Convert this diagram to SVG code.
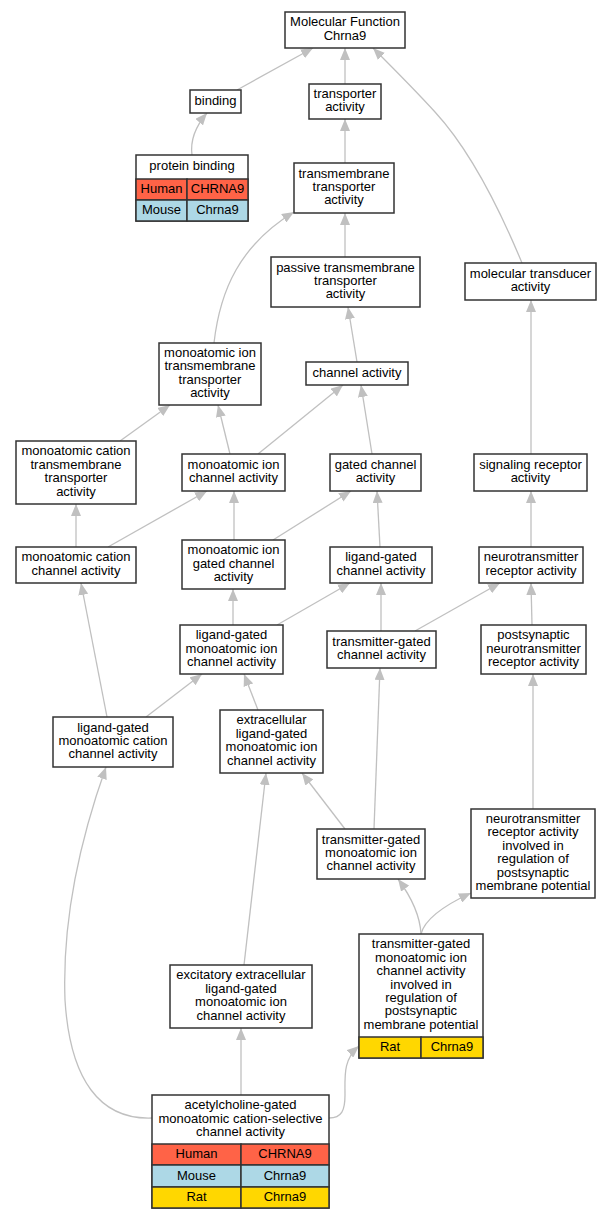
<svg xmlns="http://www.w3.org/2000/svg" width="612" height="1219" viewBox="0 0 612 1219">
<style>
.n{fill:#fff;stroke:#333;stroke-width:1.5}
.t{font-family:"Liberation Sans",Arial,sans-serif;font-size:13px;fill:#000;text-anchor:middle}
.c{stroke:#333;stroke-width:1.5}
.hu{fill:#FF6347}
.mo{fill:#ADD8E6}
.ra{fill:#FFD700}
.e{fill:none;stroke:#c0c0c0;stroke-width:1.3;marker-end:url(#a)}
</style>
<defs>
<marker id="a" markerUnits="userSpaceOnUse" markerWidth="12" markerHeight="10" refX="12" refY="5" orient="auto">
<path d="M0,0 L12,5 L0,10 z" fill="#c0c0c0"/>
</marker>
</defs>
<rect width="612" height="1219" fill="#fff"/>
<g id="edges">
<path class="e" d="M237,90 L313,48"/>
<path class="e" d="M345,84 L345,48"/>
<path class="e" d="M522,263 C500,210 470,150 435,112 C415,90 395,70 373,48"/>
<path class="e" d="M192,155 C190,140 195,127 207,113"/>
<path class="e" d="M345,163 L345,119"/>
<path class="e" d="M345,257 L345,213"/>
<path class="e" d="M214,343 C220,290 240,245 294,212"/>
<path class="e" d="M357,362 L348,307"/>
<path class="e" d="M531,454 L531,300"/>
<path class="e" d="M120,441 L170,405"/>
<path class="e" d="M230,454 L218,405"/>
<path class="e" d="M258,454 L343,385"/>
<path class="e" d="M372,454 L361,385"/>
<path class="e" d="M76,547 L76,504"/>
<path class="e" d="M108,547 L207,491"/>
<path class="e" d="M234,540 L234,491"/>
<path class="e" d="M273,540 L351,491"/>
<path class="e" d="M380,547 L377,491"/>
<path class="e" d="M531,547 L531,491"/>
<path class="e" d="M233,625 L233,589"/>
<path class="e" d="M277,625 L350,583"/>
<path class="e" d="M381,631 L381,583"/>
<path class="e" d="M415,631 L500,583"/>
<path class="e" d="M532,625 L531,583"/>
<path class="e" d="M146,717 L202,674"/>
<path class="e" d="M107,717 L81,583"/>
<path class="e" d="M258,710 L244,674"/>
<path class="e" d="M345,829 L302,773"/>
<path class="e" d="M374,829 L380,668"/>
<path class="e" d="M533,809 L533,674"/>
<path class="e" d="M421,934 C420,915 412,898 398,879"/>
<path class="e" d="M421,934 C425,918 445,905 471,893"/>
<path class="e" d="M244,965 L266,773"/>
<path class="e" d="M241,1095 L241,1028"/>
<path class="e" d="M152,1118 C100,1120 70,1080 65,1000 C62,920 80,840 106,767"/>
<path class="e" d="M329,1118 C342,1118 345,1110 345,1095 C345,1075 343,1060 359,1046"/>
</g>
<g id="n1"><rect class="n" x="285" y="12" width="120" height="36"/><text class="t" x="345" y="26.3">Molecular Function</text><text class="t" x="345" y="39.7">Chrna9</text></g>
<g id="n2"><rect class="n" x="190" y="90" width="51" height="23"/><text class="t" x="215.5" y="104.5">binding</text></g>
<g id="n3"><rect class="n" x="309" y="84" width="72" height="35"/><text class="t" x="345" y="97.8">transporter</text><text class="t" x="345" y="111.2">activity</text></g>
<g id="n4"><rect class="n" x="136" y="155" width="112" height="66"/><text class="t" x="192" y="170">protein binding</text>
<rect class="hu c" x="136" y="179" width="51" height="21"/><rect class="hu c" x="187" y="179" width="61" height="21"/>
<rect class="mo c" x="136" y="200" width="51" height="21"/><rect class="mo c" x="187" y="200" width="61" height="21"/>
<text class="t" x="161.5" y="193">Human</text><text class="t" x="217.5" y="193">CHRNA9</text>
<text class="t" x="161.5" y="214">Mouse</text><text class="t" x="217.5" y="214">Chrna9</text></g>
<g id="n5"><rect class="n" x="294" y="163" width="100" height="50"/><text class="t" x="344" y="177.6">transmembrane</text><text class="t" x="344" y="191">transporter</text><text class="t" x="344" y="204.4">activity</text></g>
<g id="n6"><rect class="n" x="271" y="257" width="149" height="50"/><text class="t" x="345.5" y="271.6">passive transmembrane</text><text class="t" x="345.5" y="285">transporter</text><text class="t" x="345.5" y="298.4">activity</text></g>
<g id="n7"><rect class="n" x="465" y="263" width="131" height="37"/><text class="t" x="530.5" y="277.8">molecular transducer</text><text class="t" x="530.5" y="291.2">activity</text></g>
<g id="n8"><rect class="n" x="159" y="343" width="102" height="62"/><text class="t" x="210" y="356.9">monoatomic ion</text><text class="t" x="210" y="370.3">transmembrane</text><text class="t" x="210" y="383.7">transporter</text><text class="t" x="210" y="397.1">activity</text></g>
<g id="n9"><rect class="n" x="306" y="362" width="102" height="23"/><text class="t" x="357" y="376.5">channel activity</text></g>
<g id="n10"><rect class="n" x="16" y="441" width="120" height="63"/><text class="t" x="76" y="455.4">monoatomic cation</text><text class="t" x="76" y="468.8">transmembrane</text><text class="t" x="76" y="482.2">transporter</text><text class="t" x="76" y="495.6">activity</text></g>
<g id="n11"><rect class="n" x="182" y="454" width="103" height="37"/><text class="t" x="233.5" y="468.8">monoatomic ion</text><text class="t" x="233.5" y="482.2">channel activity</text></g>
<g id="n12"><rect class="n" x="330" y="454" width="91" height="37"/><text class="t" x="375.5" y="468.8">gated channel</text><text class="t" x="375.5" y="482.2">activity</text></g>
<g id="n13"><rect class="n" x="474" y="454" width="113" height="37"/><text class="t" x="530.5" y="468.8">signaling receptor</text><text class="t" x="530.5" y="482.2">activity</text></g>
<g id="n14"><rect class="n" x="16" y="547" width="120" height="36"/><text class="t" x="76" y="561.3">monoatomic cation</text><text class="t" x="76" y="574.7">channel activity</text></g>
<g id="n15"><rect class="n" x="182" y="540" width="103" height="49"/><text class="t" x="233.5" y="554.1">monoatomic ion</text><text class="t" x="233.5" y="567.5">gated channel</text><text class="t" x="233.5" y="580.9">activity</text></g>
<g id="n16"><rect class="n" x="330" y="547" width="102" height="36"/><text class="t" x="381" y="561.3">ligand-gated</text><text class="t" x="381" y="574.7">channel activity</text></g>
<g id="n17"><rect class="n" x="479" y="547" width="104" height="36"/><text class="t" x="531" y="561.3">neurotransmitter</text><text class="t" x="531" y="574.7">receptor activity</text></g>
<g id="n18"><rect class="n" x="180" y="625" width="103" height="49"/><text class="t" x="231.5" y="639.1">ligand-gated</text><text class="t" x="231.5" y="652.5">monoatomic ion</text><text class="t" x="231.5" y="665.9">channel activity</text></g>
<g id="n19"><rect class="n" x="327" y="631" width="109" height="37"/><text class="t" x="381.5" y="645.8">transmitter-gated</text><text class="t" x="381.5" y="659.2">channel activity</text></g>
<g id="n20"><rect class="n" x="481" y="625" width="105" height="49"/><text class="t" x="533.5" y="639.1">postsynaptic</text><text class="t" x="533.5" y="652.5">neurotransmitter</text><text class="t" x="533.5" y="665.9">receptor activity</text></g>
<g id="n21"><rect class="n" x="53" y="717" width="120" height="50"/><text class="t" x="113" y="731.6">ligand-gated</text><text class="t" x="113" y="745">monoatomic cation</text><text class="t" x="113" y="758.4">channel activity</text></g>
<g id="n22"><rect class="n" x="220" y="710" width="103" height="63"/><text class="t" x="271.5" y="724.4">extracellular</text><text class="t" x="271.5" y="737.8">ligand-gated</text><text class="t" x="271.5" y="751.2">monoatomic ion</text><text class="t" x="271.5" y="764.6">channel activity</text></g>
<g id="n23"><rect class="n" x="317" y="829" width="108" height="50"/><text class="t" x="371" y="843.6">transmitter-gated</text><text class="t" x="371" y="857">monoatomic ion</text><text class="t" x="371" y="870.4">channel activity</text></g>
<g id="n24"><rect class="n" x="471" y="809" width="124" height="89"/><text class="t" x="533" y="823">neurotransmitter</text><text class="t" x="533" y="836.4">receptor activity</text><text class="t" x="533" y="849.8">involved in</text><text class="t" x="533" y="863.2">regulation of</text><text class="t" x="533" y="876.6">postsynaptic</text><text class="t" x="533" y="890">membrane potential</text></g>
<g id="n25"><rect class="n" x="359" y="934" width="124" height="124"/><text class="t" x="421" y="948.3">transmitter-gated</text><text class="t" x="421" y="961.7">monoatomic ion</text><text class="t" x="421" y="975.1">channel activity</text><text class="t" x="421" y="988.5">involved in</text><text class="t" x="421" y="1001.9">regulation of</text><text class="t" x="421" y="1015.3">postsynaptic</text><text class="t" x="421" y="1028.7">membrane potential</text>
<rect class="ra c" x="359" y="1037" width="62" height="21"/><rect class="ra c" x="421" y="1037" width="62" height="21"/>
<text class="t" x="390" y="1051">Rat</text><text class="t" x="452" y="1051">Chrna9</text></g>
<g id="n26"><rect class="n" x="170" y="965" width="142" height="63"/><text class="t" x="241" y="979.4">excitatory extracellular</text><text class="t" x="241" y="992.8">ligand-gated</text><text class="t" x="241" y="1006.2">monoatomic ion</text><text class="t" x="241" y="1019.6">channel activity</text></g>
<g id="n27"><rect class="n" x="152" y="1095" width="177" height="113"/><text class="t" x="240.5" y="1109.1">acetylcholine-gated</text><text class="t" x="240.5" y="1122.5">monoatomic cation-selective</text><text class="t" x="240.5" y="1135.9">channel activity</text>
<rect class="hu c" x="152" y="1144" width="89" height="21"/><rect class="hu c" x="241" y="1144" width="88" height="21"/>
<rect class="mo c" x="152" y="1165" width="89" height="22"/><rect class="mo c" x="241" y="1165" width="88" height="22"/>
<rect class="ra c" x="152" y="1187" width="89" height="21"/><rect class="ra c" x="241" y="1187" width="88" height="21"/>
<text class="t" x="196.5" y="1158">Human</text><text class="t" x="285" y="1158">CHRNA9</text>
<text class="t" x="196.5" y="1180">Mouse</text><text class="t" x="285" y="1180">Chrna9</text>
<text class="t" x="196.5" y="1201">Rat</text><text class="t" x="285" y="1201">Chrna9</text></g>
</svg>
